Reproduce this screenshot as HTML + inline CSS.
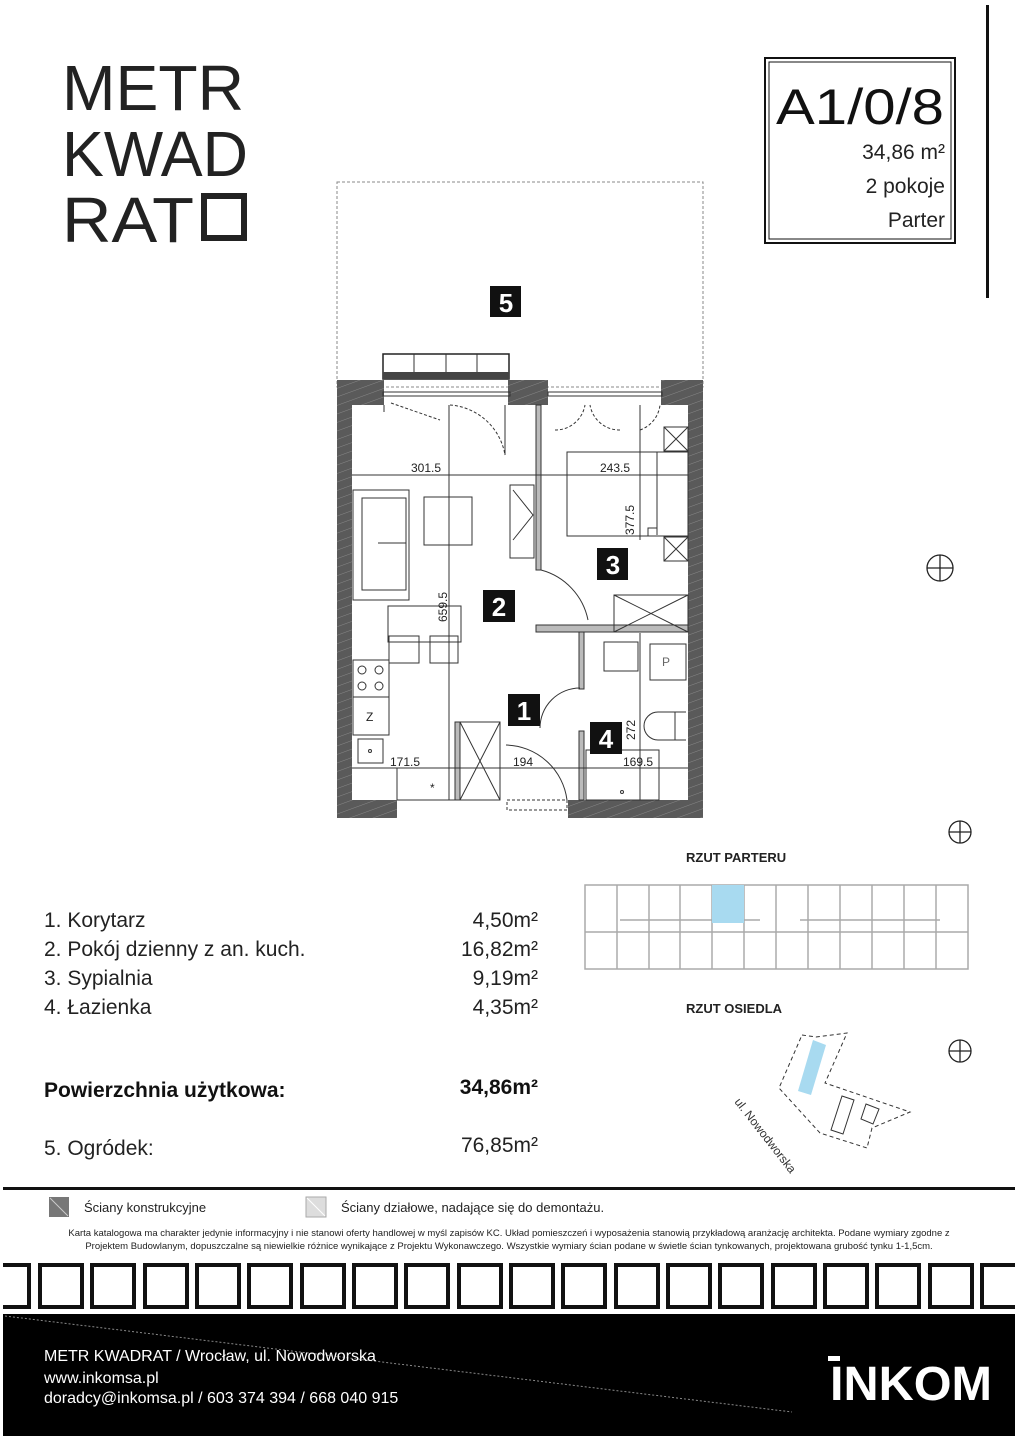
<!DOCTYPE html>
<html><head><meta charset="utf-8"><style>
body{margin:0;background:#fff;width:1018px;height:1440px;overflow:hidden;position:relative;font-family:"Liberation Sans",sans-serif}
.a{position:absolute;white-space:nowrap}
</style></head><body>
<svg class="a" style="left:0;top:0" width="1018" height="1440" xmlns="http://www.w3.org/2000/svg">
<defs>
<pattern id="h" width="8" height="8" patternUnits="userSpaceOnUse" patternTransform="rotate(70)"><rect width="8" height="8" fill="#5a5a5a"/><line x1="0" y1="0" x2="0" y2="8" stroke="#888" stroke-width="1"/></pattern>
</defs>
<!-- logo -->
<text x="62" y="110" font-size="64" font-family="Liberation Sans" fill="#222" textLength="182" lengthAdjust="spacingAndGlyphs">METR</text>
<text x="62" y="176" font-size="64" font-family="Liberation Sans" fill="#222" textLength="186" lengthAdjust="spacingAndGlyphs">KWAD</text>
<text x="62" y="242" font-size="64" font-family="Liberation Sans" fill="#222" textLength="132" lengthAdjust="spacingAndGlyphs">RAT</text>
<rect x="204" y="196" width="40" height="42" fill="none" stroke="#222" stroke-width="6"/>
<!-- header box -->
<rect x="765" y="58" width="190" height="185" fill="none" stroke="#111" stroke-width="2"/>
<rect x="769" y="62" width="182" height="177" fill="none" stroke="#111" stroke-width="1"/>
<rect x="986" y="5" width="3" height="293" fill="#111"/>
<text x="776" y="124" font-size="50" fill="#111" textLength="168" lengthAdjust="spacingAndGlyphs">A1/0/8</text>
<text x="945" y="159" font-size="21" text-anchor="end" fill="#222">34,86 m²</text>
<text x="945" y="193" font-size="21" text-anchor="end" fill="#222">2 pokoje</text>
<text x="945" y="227" font-size="21" text-anchor="end" fill="#222">Parter</text>
<!-- garden -->
<rect x="337" y="182" width="366" height="205" fill="none" stroke="#888" stroke-width="1" stroke-dasharray="3,2"/>
<!-- walls -->
<rect x="337" y="380" width="15" height="438" fill="url(#h)"/>
<rect x="688" y="380" width="15" height="438" fill="url(#h)"/>
<rect x="337" y="380" width="47" height="25" fill="url(#h)"/>
<rect x="508" y="380" width="40" height="25" fill="url(#h)"/>
<rect x="661" y="380" width="42" height="25" fill="url(#h)"/>
<rect x="337" y="800" width="60" height="18" fill="url(#h)"/>
<rect x="568" y="800" width="135" height="18" fill="url(#h)"/>
<rect x="383" y="354" width="126" height="25" fill="#fff" stroke="#222" stroke-width="1.5"/>
<rect x="383" y="372" width="126" height="7" fill="#444"/>
<g stroke="#333" stroke-width="1"><line x1="414" y1="354" x2="414" y2="372"/><line x1="446" y1="354" x2="446" y2="372"/><line x1="477" y1="354" x2="477" y2="372"/></g>
<g stroke="#333" stroke-width="1" fill="none">
<rect x="383" y="392" width="127" height="4"/><rect x="548" y="392" width="114" height="4"/>
<line x1="384" y1="405" x2="384" y2="412"/>
<path d="M450 405 A60 60 0 0 1 505 455" stroke-dasharray="3,2"/>
<line x1="505" y1="405" x2="505" y2="455"/>
<line x1="391" y1="403" x2="440" y2="420" stroke-dasharray="3,2"/>
<path d="M555 430 A30 30 0 0 0 585 405 M620 430 A30 30 0 0 1 590 405 M640 430 A30 30 0 0 0 660 405" stroke-dasharray="3,2"/>
<rect x="536" y="405" width="5" height="165" fill="#bbb"/>
<rect x="536" y="625" width="152" height="7" fill="#bbb"/>
<rect x="579" y="632" width="5" height="57" fill="#bbb"/>
<rect x="579" y="731" width="5" height="69" fill="#bbb"/>
<rect x="455" y="722" width="5" height="78" fill="#bbb"/>
<path d="M541 570 A65 65 0 0 1 588 620"/>
<path d="M540 728 A40 40 0 0 1 580 688"/>
<path d="M506 745 A63 63 0 0 1 567 800"/>
<rect x="507" y="800" width="60" height="10" stroke-dasharray="3,2"/>
<line x1="352" y1="475" x2="688" y2="475"/><line x1="352" y1="768" x2="688" y2="768"/>
<line x1="449" y1="405" x2="449" y2="800"/><line x1="640" y1="633" x2="640" y2="800"/>
<line x1="640" y1="405" x2="640" y2="540"/>
<rect x="353" y="490" width="56" height="110"/><rect x="362" y="498" width="44" height="92"/>
<line x1="378" y1="543" x2="406" y2="543"/>
<rect x="424" y="497" width="48" height="48"/>
<rect x="510" y="485" width="24" height="73"/><path d="M513 490 L533 515 L513 540"/>
<rect x="567" y="452" width="121" height="84"/><path d="M657 452 V535 M648 536 V528 H657"/>
<rect x="664" y="427" width="24" height="24"/><path d="M664 427 L688 451 M688 427 L664 451"/>
<rect x="664" y="537" width="24" height="24"/><path d="M664 537 L688 561 M688 537 L664 561"/>
<rect x="614" y="595" width="74" height="37"/><path d="M614 595 L688 632 M688 595 L614 632"/>
<rect x="388" y="606" width="73" height="36"/>
<rect x="389" y="636" width="30" height="27"/><rect x="430" y="636" width="28" height="27"/>
<rect x="353" y="660" width="36" height="37"/>
<circle cx="362" cy="670" r="4"/><circle cx="379" cy="670" r="4"/><circle cx="362" cy="686" r="4"/><circle cx="379" cy="686" r="4"/>
<rect x="353" y="697" width="36" height="38"/>
<rect x="358" y="739" width="25" height="24"/><circle cx="370" cy="751" r="1.5"/>
<rect x="397" y="768" width="58" height="32"/>
<rect x="460" y="722" width="40" height="78"/><path d="M460 722 L500 800 M500 722 L460 800"/>
<rect x="604" y="642" width="34" height="29"/>
<rect x="650" y="644" width="36" height="36"/>
<path d="M686 712 H658 A14 14 0 0 0 658 740 H686 M675 712 V740"/>
<rect x="586" y="750" width="73" height="50"/><circle cx="622" cy="792" r="1.5"/>
</g>
<g font-size="12" fill="#222" font-family="Liberation Sans">
<text x="411" y="472">301.5</text><text x="600" y="472">243.5</text>
<text x="390" y="766">171.5</text><text x="513" y="766">194</text><text x="623" y="766">169.5</text>
<text transform="translate(634 535) rotate(-90)">377.5</text>
<text transform="translate(447 622) rotate(-90)">659.5</text>
<text transform="translate(635 740) rotate(-90)">272</text>
<text x="366" y="721">Z</text><text x="662" y="666" fill="#666">P</text><text x="430" y="792">*</text>
</g>
<g font-size="26" font-weight="bold" fill="#fff" text-anchor="middle">
<rect x="490" y="286" width="31" height="31" fill="#111"/><text x="506" y="312">5</text>
<rect x="483" y="590" width="32" height="32" fill="#111"/><text x="499" y="616">2</text>
<rect x="597" y="548" width="31" height="32" fill="#111"/><text x="613" y="574">3</text>
<rect x="508" y="694" width="32" height="32" fill="#111"/><text x="524" y="720">1</text>
<rect x="590" y="722" width="32" height="32" fill="#111"/><text x="606" y="748">4</text>
</g>
<g stroke="#222" fill="none" stroke-width="1.3">
<circle cx="940" cy="568" r="13"/><line x1="927" y1="568" x2="953" y2="568"/><line x1="940" y1="555" x2="940" y2="581"/>
<circle cx="960" cy="832" r="11"/><line x1="949" y1="832" x2="971" y2="832"/><line x1="960" y1="821" x2="960" y2="843"/>
<circle cx="960" cy="1051" r="11"/><line x1="949" y1="1051" x2="971" y2="1051"/><line x1="960" y1="1040" x2="960" y2="1062"/>
</g>
<g stroke="#aaa" fill="none" stroke-width="1.5">
<rect x="585" y="885" width="383" height="84"/>
<line x1="585" y1="932" x2="968" y2="932"/><line x1="776" y1="885" x2="776" y2="969"/>
<line x1="617" y1="885" x2="617" y2="969"/><line x1="649" y1="885" x2="649" y2="969"/><line x1="680" y1="885" x2="680" y2="969"/>
<line x1="712" y1="885" x2="712" y2="969"/><line x1="744" y1="885" x2="744" y2="969"/><line x1="808" y1="885" x2="808" y2="969"/>
<line x1="840" y1="885" x2="840" y2="969"/><line x1="872" y1="885" x2="872" y2="969"/><line x1="904" y1="885" x2="904" y2="969"/><line x1="936" y1="885" x2="936" y2="969"/>
<line x1="620" y1="920" x2="760" y2="920"/><line x1="800" y1="920" x2="940" y2="920"/>
</g>
<rect x="712" y="885" width="32" height="38" fill="#a8daf0"/>
<path d="M802 1035 L816 1037 L847 1033 L825 1083 L910 1112 L872 1128 L867 1148 L820 1133 L779 1088 Z" fill="none" stroke="#333" stroke-dasharray="4,3"/>
<path d="M813 1040 L826 1045 L811 1095 L798 1091 Z" fill="#a8daf0"/>
<path d="M842 1096 L854 1100 L843 1134 L831 1130 Z M866 1104 L879 1109 L873 1124 L861 1119 Z" fill="none" stroke="#333"/>
<text transform="translate(734 1102) rotate(52)" font-size="12" fill="#333">ul. Nowodworska</text>
<text x="686" y="862" font-size="13" font-weight="bold" fill="#222">RZUT PARTERU</text>
<text x="686" y="1013" font-size="13" font-weight="bold" fill="#222">RZUT OSIEDLA</text>
<rect x="3" y="1187" width="1012" height="3" fill="#111"/>
<rect x="49" y="1197" width="20" height="20" fill="#777"/><line x1="50" y1="1198" x2="68" y2="1216" stroke="#ccc"/>
<rect x="306" y="1197" width="20" height="20" fill="#ddd" stroke="#aaa"/><line x1="307" y1="1198" x2="325" y2="1216" stroke="#fff"/>
<rect x="3" y="1263" width="28" height="46" fill="#111"/>
<rect x="3" y="1267" width="24" height="38" fill="#fff"/>
<rect x="3" y="1314" width="1012" height="122" fill="#000"/>
<line x1="5" y1="1316" x2="792" y2="1412" stroke="#888" stroke-dasharray="2,2"/>
<text x="44" y="1361" font-size="16" fill="#fff">METR KWADRAT / Wrocław, ul. Nowodworska</text>
<text x="44" y="1383" font-size="16" fill="#fff">www.inkomsa.pl</text>
<text x="44" y="1403" font-size="16" fill="#fff">doradcy@inkomsa.pl / 603 374 394 / 668 040 915</text>
<text x="830" y="1400" font-size="48" fill="#fff" font-weight="bold" textLength="162" lengthAdjust="spacingAndGlyphs">INKOM</text>
<rect x="828" y="1356" width="12" height="5" fill="#fff"/>
</svg>
<svg class="a" style="left:0;top:0" width="1018" height="1320">
<g fill="#111">
<rect x="38" y="1263" width="46" height="46"/><rect x="90" y="1263" width="46" height="46"/><rect x="143" y="1263" width="46" height="46"/><rect x="195" y="1263" width="46" height="46"/><rect x="247" y="1263" width="46" height="46"/><rect x="300" y="1263" width="46" height="46"/><rect x="352" y="1263" width="46" height="46"/><rect x="404" y="1263" width="46" height="46"/><rect x="457" y="1263" width="46" height="46"/><rect x="509" y="1263" width="46" height="46"/><rect x="561" y="1263" width="46" height="46"/><rect x="614" y="1263" width="46" height="46"/><rect x="666" y="1263" width="46" height="46"/><rect x="718" y="1263" width="46" height="46"/><rect x="771" y="1263" width="46" height="46"/><rect x="823" y="1263" width="46" height="46"/><rect x="875" y="1263" width="46" height="46"/><rect x="928" y="1263" width="46" height="46"/><rect x="980" y="1263" width="35" height="46"/>
</g>
<g fill="#fff">
<rect x="42" y="1267" width="38" height="38"/><rect x="94" y="1267" width="38" height="38"/><rect x="147" y="1267" width="38" height="38"/><rect x="199" y="1267" width="38" height="38"/><rect x="251" y="1267" width="38" height="38"/><rect x="304" y="1267" width="38" height="38"/><rect x="356" y="1267" width="38" height="38"/><rect x="408" y="1267" width="38" height="38"/><rect x="461" y="1267" width="38" height="38"/><rect x="513" y="1267" width="38" height="38"/><rect x="565" y="1267" width="38" height="38"/><rect x="618" y="1267" width="38" height="38"/><rect x="670" y="1267" width="38" height="38"/><rect x="722" y="1267" width="38" height="38"/><rect x="775" y="1267" width="38" height="38"/><rect x="827" y="1267" width="38" height="38"/><rect x="879" y="1267" width="38" height="38"/><rect x="932" y="1267" width="38" height="38"/><rect x="984" y="1267" width="31" height="38"/>
</g>
</svg>
<div class="a" style="left:44px;top:906px;font-size:21px;color:#222;line-height:29px">1. Korytarz<br>2. Pokój dzienny z an. kuch.<br>3. Sypialnia<br>4. Łazienka</div>
<div class="a" style="left:440px;top:906px;width:98px;text-align:right;font-size:21px;color:#222;line-height:29px">4,50m²<br>16,82m²<br>9,19m²<br>4,35m²</div>
<div class="a" style="left:44px;top:1079px;font-size:21px;font-weight:bold;color:#111">Powierzchnia użytkowa:</div>
<div class="a" style="left:420px;top:1076px;width:118px;text-align:right;font-size:21px;font-weight:bold;color:#111">34,86m²</div>
<div class="a" style="left:44px;top:1137px;font-size:21px;color:#222">5. Ogródek:</div>
<div class="a" style="left:420px;top:1134px;width:118px;text-align:right;font-size:21px;color:#222">76,85m²</div>
<div class="a" style="left:84px;top:1200px;font-size:13px;color:#222">Ściany konstrukcyjne</div>
<div class="a" style="left:341px;top:1200px;font-size:13px;color:#222">Ściany działowe, nadające się do demontażu.</div>
<div class="a" style="left:0;width:1018px;top:1227px;font-size:9.5px;color:#222;text-align:center;line-height:13px;white-space:normal">Karta katalogowa ma charakter jedynie informacyjny i nie stanowi oferty handlowej w myśl zapisów KC. Układ pomieszczeń i wyposażenia stanowią przykładową aranżację architekta. Podane wymiary zgodne z<br>Projektem Budowlanym, dopuszczalne są niewielkie różnice wynikające z Projektu Wykonawczego. Wszystkie wymiary ścian podane w świetle ścian tynkowanych, projektowana grubość tynku 1-1,5cm.</div>
</body></html>
